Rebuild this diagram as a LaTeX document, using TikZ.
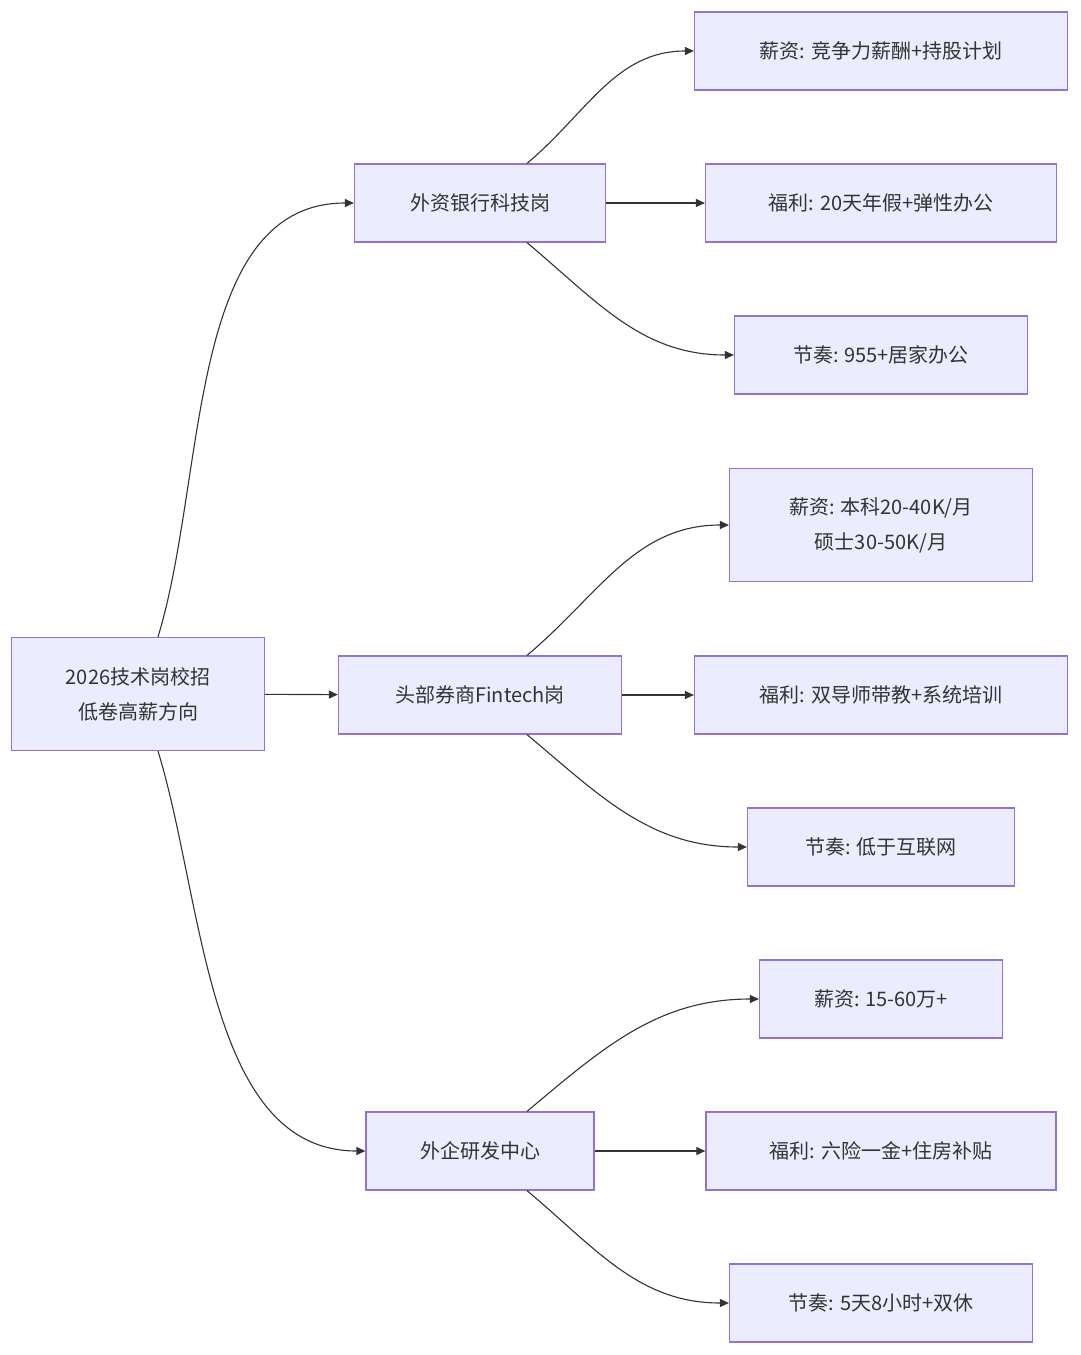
\documentclass[tikz,border=0pt]{standalone}
\usepackage{fontspec}
\setmainfont{Noto Sans CJK SC}
\usetikzlibrary{calc, arrows.meta, positioning}
\definecolor{boxfill}{HTML}{ECECFF}
\definecolor{boxline}{HTML}{9370DB}
\tikzset{basic/.style={draw=boxline, fill=boxfill, line width=1.2pt, inner sep=0pt, align=center, font=\fontsize{20}{35}\selectfont, text=black!80}}
\tikzset{item/.style={basic, rectangle, minimum height=78pt}}
\tikzset{link/.style={-{Triangle[length=9pt,width=8pt]}, line width=1.1pt, draw=black!80}}

\begin{document}
\begin{tikzpicture}[x=1pt, y=-1pt]
    \useasboundingbox (0,0) rectangle (1080,1355);

    \node[item, minimum width=253pt, minimum height=113pt] (root) at (138,694) {2026技术岗校招\\低卷高薪方向};

    \node[item, minimum width=251pt] (bank) at (480,203) {外资银行科技岗};
    \node[item, minimum width=283pt] (broker) at (480,695) {头部券商Fintech岗};
    \node[item, minimum width=228pt] (lab) at (480,1151) {外企研发中心};

    \node[item, minimum width=373pt] (bank1) at (881,51) {薪资: 竞争力薪酬+持股计划};
    \node[item, minimum width=351pt] (bank2) at (881,203) {福利: 20天年假+弹性办公};
    \node[item, minimum width=293pt] (bank3) at (881,355) {节奏: 955+居家办公};

    \node[item, minimum width=303pt, minimum height=113pt] (broker1) at (881,525) {薪资: 本科20-40K/月\\硕士30-50K/月};
    \node[item, minimum width=373pt] (broker2) at (881,695) {福利: 双导师带教+系统培训};
    \node[item, minimum width=267pt] (broker3) at (881,847) {节奏: 低于互联网};

    \node[item, minimum width=243pt] (lab1) at (881,999) {薪资: 15-60万+};
    \node[item, minimum width=350pt] (lab2) at (881,1151) {福利: 六险一金+住房补贴};
    \node[item, minimum width=303pt] (lab3) at (881,1303) {节奏: 5天8小时+双休};

    \draw[link] ($(root.north)+(20,0)$) to[out=73, in=180, looseness=0.9] (bank.west);
    \draw[link] (root) -- (broker);
    \draw[link] ($(root.south)+(20,0)$) to[out=-73, in=180, looseness=0.9] (lab.west);

    \foreach \p in {bank, broker, lab} {
        \draw[link] ($(\p.north)+(47,0)$) to[out=40, in=180] (\p1.west);
        \draw[link] (\p) -- (\p2);
        \draw[link] ($(\p.south)+(47,0)$) to[out=-40, in=180] (\p3.west);
    }

\end{tikzpicture}
\end{document}
